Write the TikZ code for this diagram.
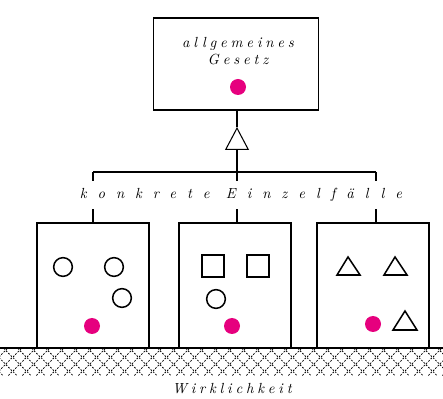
\documentclass[tikz,border=0pt]{standalone}
\usepackage{fontspec}
\usepackage{xcolor}
\usepackage{tikz}
\usetikzlibrary{arrows.meta,patterns.meta}
\definecolor{punktfarbe}{RGB}{230,0,126}
\newfontfamily\gesperrt{lmroman10-italic.otf}[LetterSpace=26]
\newfontfamily\weitgesperrt{lmroman10-italic.otf}[LetterSpace=75]

\tikzdeclarepattern{
  name=erde,
  type=uncolored,
  bounding box={(0,0) and (12pt,12pt)},
  tile size={(12pt,12pt)},
  code={
    \draw[line width=0.7pt, dash pattern=on 1.6pt off 1.4pt]
      (0pt,0pt) -- (12pt,12pt) (0pt,12pt) -- (12pt,0pt);
  }
}

\begin{document}
\begin{tikzpicture}[x=0.03cm, y=-0.03cm,
    kasten/.style={draw, line width=1.5pt, minimum width=3.36cm, minimum height=3.75cm, inner sep=0pt},
    schrift/.style={font=\fontsize{12.5}{15}\gesperrt},
    punkt/.style={circle, fill=punktfarbe, inner sep=0pt, minimum size=0.48cm},
    kreis/.style={circle, draw, line width=1.3pt, inner sep=0pt, minimum size=0.56cm},
    quadrat/.style={draw, line width=1.3pt, inner sep=0pt, minimum size=0.65cm},
    dreieck/.style={line width=1.3pt, line join=miter},
    linie/.style={line width=0.9pt}]
    \useasboundingbox (0,0) rectangle (443,399);

    % oben: das allgemeine Gesetz
    \node[draw, line width=1.5pt, minimum width=4.95cm, minimum height=2.76cm] (gesetz) at (236,64) {};
    \node[schrift, align=center] (gesetztext) at (238,51) {allgemeines\\Gesetz};
    \node[punkt] (gesetzpunkt) at (238,87) {};

    % unten: die drei Einzelfaelle
    \node[kasten] (fall1) at (93,285.5) {};
    \node[kasten] (fall2) at (235,285.5) {};
    \node[kasten] (fall3) at (373,285.5) {};

    % Fall 1: Kreise
    \node[kreis] (k1) at (63,267) {};
    \node[kreis] (k2) at (114,267) {};
    \node[kreis] (k3) at (122,298) {};
    \node[punkt] (p1) at (92,326) {};

    % Fall 2: Quadrate und Kreis
    \node[quadrat] (q1) at (213,266) {};
    \node[quadrat] (q2) at (258,266) {};
    \node[kreis] (k4) at (216,299) {};
    \node[punkt] (p2) at (232,326) {};

    % Fall 3: Dreiecke
    \draw[dreieck] (337,275) -- (348,257) -- (360,275) -- cycle;
    \draw[dreieck] (384,275) -- (395,257) -- (407,275) -- cycle;
    \draw[dreieck] (393,330) -- (405,311) -- (417,330) -- cycle;
    \node[punkt] (p3) at (373,324) {};

    % Vererbungspfeil und Verzweigung
    \coordinate (spitze) at (237,127);
    \coordinate (knoten) at (237,172);
    \coordinate (links) at (93,172);
    \coordinate (rechts) at (376,172);
    \draw[linie] (gesetz.south -| spitze) -- (spitze);
    \draw[linie, -{Triangle[open, length=0.69cm, width=0.72cm, line width=0.9pt]}] (knoten) -- (spitze);
    \draw[linie] (links) -- (rechts);
    \draw[linie] (links) -- (fall1.north);
    \draw[linie] (knoten) -- (knoten |- fall2.north);
    \draw[linie] (rechts) -- (rechts |- fall3.north);
    \node[fill=white, inner xsep=2pt, inner ysep=6pt, font=\fontsize{12.5}{15}\weitgesperrt] (einzelfaelle) at (241,195) {konkrete Einzelfälle};

    % Boden: die Wirklichkeit
    \fill[pattern=erde] (0,349) rectangle (443,376);
    \draw[line width=2.2pt] (0,348) -- (443,348);
    \node[schrift] (wirklichkeit) at (232,389) {Wirklichkeit};
\end{tikzpicture}
\end{document}
